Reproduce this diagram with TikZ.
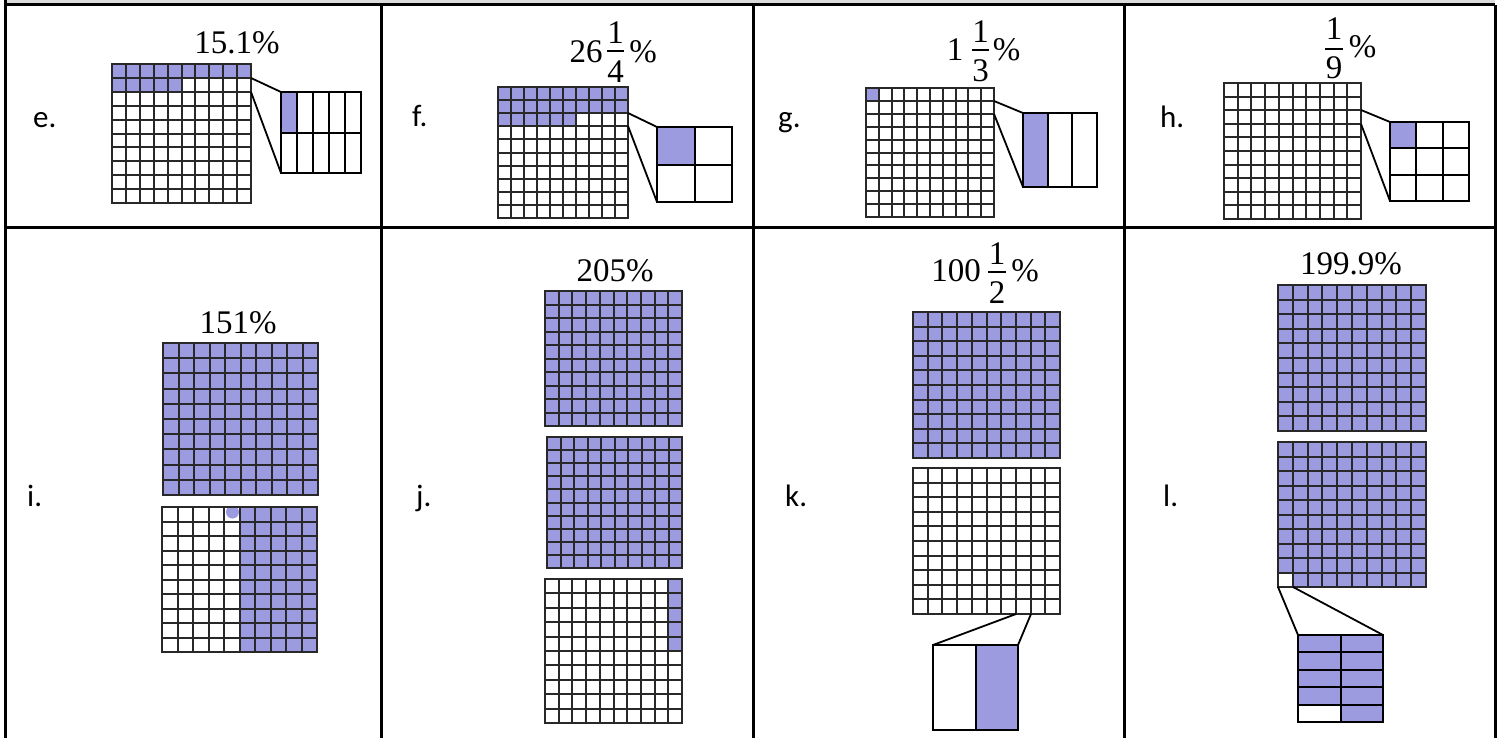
\documentclass[tikz,border=0pt]{standalone}
\usepackage{fontspec}
\setmainfont{Liberation Serif}
\newfontfamily\lblfont{Carlito}
\definecolor{shadecol}{RGB}{157,155,224}
\definecolor{gridcol}{RGB}{40,40,40}
\definecolor{topgray}{RGB}{220,220,220}
\tikzset{
  tbl/.style={line width=3pt, black},
  gl/.style={line width=1.8pt, gridcol, line cap=rect},
  zl/.style={line width=2pt, black, line cap=rect},
  conn/.style={line width=1.8pt, black},
  sh/.style={fill=shadecol},
  pct/.style={inner sep=0pt, font=\fontsize{33}{38}\selectfont},
  lbl/.style={inner sep=0pt, anchor=base west, font=\lblfont\fontsize{31}{36}\selectfont},
  fbar/.style={line width=2.6pt, black},
}
% [style] x0 y0 x1 y1 ncols nrows
\newcommand{\hgrid}[7][gl]{%
  \foreach \k in {0,...,#6}{\draw[#1] ({round(#2+(#4-#2)*\k/#6)},#3) -- ({round(#2+(#4-#2)*\k/#6)},#5);}
  \foreach \k in {0,...,#7}{\draw[#1] (#2,{round(#3+(#5-#3)*\k/#7)}) -- (#4,{round(#3+(#5-#3)*\k/#7)});}
}
\begin{document}
\begin{tikzpicture}[x=1pt,y=-1pt]
\useasboundingbox (0,0) rectangle (1501,738);
\fill[white] (0,0) rectangle (1501,738);
\fill[topgray] (5,0) rectangle (1495,4);
% table
\draw[tbl] (5,5) -- (1495,5);
\draw[tbl] (5,227) -- (1495,227);
\draw[tbl] (5,0) -- (5,738);
\draw[tbl] (381,5) -- (381,738);
\draw[tbl] (753,5) -- (753,738);
\draw[tbl] (1124,5) -- (1124,738);
\draw[tbl] (1495,5) -- (1495,738);

% ---------- e ----------
\node[lbl] (e-l) at (33,128) {e.};
\node[pct] (e-t) at (237,43) {15.1\%};
\fill[sh] (112,64) rectangle (251,78);
\fill[sh] (112,78) rectangle (182,92);
\hgrid{112}{64}{251}{203}{10}{10}
\fill[sh] (281,92) rectangle (297,132);
\hgrid[zl]{281}{92}{361}{173}{5}{2}
\coordinate (e-a1) at (251,78); \coordinate (e-b1) at (281,92);
\coordinate (e-a2) at (251,92); \coordinate (e-b2) at (281,173);
\draw[conn] (e-a1) -- (e-b1);
\draw[conn] (e-a2) -- (e-b2);

% ---------- f ----------
\node[lbl] (f-l) at (412,127) {f.};
\node[pct] (f-int) at (586,52) {26};
\node[pct] (f-num) at (615.5,33) {1};
\node[pct] (f-den) at (615.5,72) {4};
\node[pct] (f-pc) at (643,52) {\%};
\coordinate (f-bl) at (607,51); \coordinate (f-br) at (624,51);
\draw[fbar] (f-bl) -- (f-br);
\fill[sh] (498,87) rectangle (628,113);
\fill[sh] (498,113) rectangle (576,126);
\hgrid{498}{87}{628}{218}{10}{10}
\fill[sh] (657,127) rectangle (694,164);
\hgrid[zl]{657}{127}{732}{202}{2}{2}
\coordinate (f-a1) at (628,113); \coordinate (f-b1) at (657,127);
\coordinate (f-a2) at (628,126); \coordinate (f-b2) at (657,202);
\draw[conn] (f-a1) -- (f-b1);
\draw[conn] (f-a2) -- (f-b2);

% ---------- g ----------
\node[lbl] (g-l) at (778,128) {g.};
\node[pct] (g-int) at (955,50) {1};
\node[pct] (g-num) at (980.5,32) {1};
\node[pct] (g-den) at (980.5,71) {3};
\node[pct] (g-pc) at (1006.5,50) {\%};
\coordinate (g-bl) at (972,50); \coordinate (g-br) at (989,50);
\draw[fbar] (g-bl) -- (g-br);
\fill[sh] (866,88) rectangle (879,101);
\hgrid{866}{88}{994}{217}{10}{10}
\fill[sh] (1023,113) rectangle (1048,187);
\hgrid[zl]{1023}{113}{1097}{187}{3}{1}
\coordinate (g-a1) at (994,101); \coordinate (g-b1) at (1023,113);
\coordinate (g-a2) at (994,114); \coordinate (g-b2) at (1023,187);
\draw[conn] (g-a1) -- (g-b1);
\draw[conn] (g-a2) -- (g-b2);

% ---------- h ----------
\node[lbl] (h-l) at (1160,128) {h.};
\node[pct] (h-num) at (1334,29) {1};
\node[pct] (h-den) at (1334,68) {9};
\node[pct] (h-pc) at (1362.5,47) {\%};
\coordinate (h-bl) at (1325,49); \coordinate (h-br) at (1343,49);
\draw[fbar] (h-bl) -- (h-br);
\hgrid{1224}{83}{1361}{219}{10}{10}
\fill[sh] (1390,122) rectangle (1416,148);
\hgrid[zl]{1390}{122}{1469}{201}{3}{3}
\coordinate (h-a1) at (1361,110); \coordinate (h-b1) at (1390,122);
\coordinate (h-a2) at (1361,124); \coordinate (h-b2) at (1390,201);
\draw[conn] (h-a1) -- (h-b1);
\draw[conn] (h-a2) -- (h-b2);

% ---------- i ----------
\node[lbl] (i-l) at (27,506) {i.};
\node[pct] (i-t) at (238,323) {151\%};
\fill[sh] (163,343) rectangle (318,495);
\hgrid{163}{343}{318}{495}{10}{10}
\fill[sh] (240,507) rectangle (317,652);
\begin{scope}
\clip (162,507) rectangle (317,652);
\fill[sh] (232.5,512) circle [radius=6.5pt];
\end{scope}
\hgrid{162}{507}{317}{652}{10}{10}

% ---------- j ----------
\node[lbl] (j-l) at (416,506) {j.};
\node[pct] (j-t) at (615,271) {205\%};
\fill[sh] (545,291) rectangle (682,426);
\hgrid{545}{291}{682}{426}{10}{10}
\fill[sh] (547,437) rectangle (682,568);
\hgrid{547}{437}{682}{568}{10}{10}
\fill[sh] (668,579) rectangle (682,651);
\hgrid{545}{579}{682}{723}{10}{10}

% ---------- k ----------
\node[lbl] (k-l) at (785,506) {k.};
\node[pct] (k-int) at (956,271) {100};
\node[pct] (k-num) at (997,254) {1};
\node[pct] (k-den) at (997,293) {2};
\node[pct] (k-pc) at (1025,271) {\%};
\coordinate (k-bl) at (988,272); \coordinate (k-br) at (1006,272);
\draw[fbar] (k-bl) -- (k-br);
\fill[sh] (913,312) rectangle (1060,458);
\hgrid{913}{312}{1060}{458}{10}{10}
\hgrid{913}{468}{1060}{614}{10}{10}
\fill[sh] (975,645) rectangle (1018,730);
\hgrid[zl]{933}{645}{1018}{730}{2}{1}
\coordinate (k-a1) at (1016,614); \coordinate (k-b1) at (933,645);
\coordinate (k-a2) at (1031,614); \coordinate (k-b2) at (1018,645);
\draw[conn] (k-a1) -- (k-b1);
\draw[conn] (k-a2) -- (k-b2);

% ---------- l ----------
\node[lbl] (l-l) at (1163,506) {l.};
\node[pct] (l-t) at (1351,264) {199.9\%};
\fill[sh] (1278,285) rectangle (1426,431);
\hgrid{1278}{285}{1426}{431}{10}{10}
\fill[sh] (1278,442) rectangle (1426,587);
\fill[white] (1278,573) rectangle (1293,587);
\hgrid{1278}{442}{1426}{587}{10}{10}
\fill[sh] (1298,635) rectangle (1383,722);
\fill[white] (1298,705) rectangle (1340,722);
\hgrid[zl]{1298}{635}{1383}{722}{2}{5}
\coordinate (l-a1) at (1278,587); \coordinate (l-b1) at (1298,635);
\coordinate (l-a2) at (1293,587); \coordinate (l-b2) at (1383,635);
\draw[conn] (l-a1) -- (l-b1);
\draw[conn] (l-a2) -- (l-b2);
\end{tikzpicture}
\end{document}
